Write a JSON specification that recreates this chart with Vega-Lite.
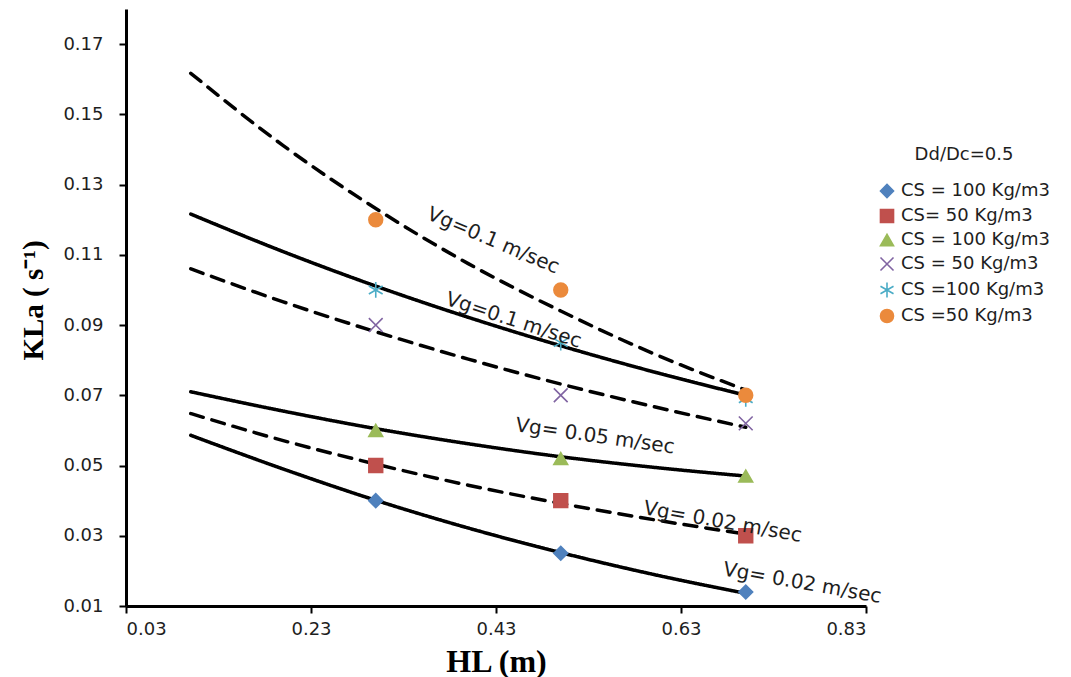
{
  "$schema": "https://vega.github.io/schema/vega-lite/v6.json",
  "autosize": {"type": "none"},
  "padding": {"left": 126, "top": 9, "right": 205, "bottom": 71},
  "width": 740,
  "height": 597,
  "background": "white",
  "config": {
    "view": {"stroke": null},
    "axis": {
      "grid": false,
      "domainColor": "black",
      "domainWidth": 3,
      "tickColor": "black",
      "tickWidth": 2,
      "tickSize": 7,
      "labelFont": "DejaVu Sans",
      "labelColor": "#1e1e1e",
      "titleFont": "Liberation Serif",
      "titleFontWeight": "bold",
      "titleColor": "black"
    }
  },
  "datasets": {
    "pts": [
      {"s": "A", "x": 0.3, "y": 0.040}, {"s": "A", "x": 0.5, "y": 0.025}, {"s": "A", "x": 0.7, "y": 0.014},
      {"s": "B", "x": 0.3, "y": 0.050}, {"s": "B", "x": 0.5, "y": 0.040}, {"s": "B", "x": 0.7, "y": 0.030},
      {"s": "C", "x": 0.3, "y": 0.060}, {"s": "C", "x": 0.5, "y": 0.052}, {"s": "C", "x": 0.7, "y": 0.047},
      {"s": "D", "x": 0.3, "y": 0.090}, {"s": "D", "x": 0.5, "y": 0.070}, {"s": "D", "x": 0.7, "y": 0.062},
      {"s": "E", "x": 0.3, "y": 0.100}, {"s": "E", "x": 0.5, "y": 0.085}, {"s": "E", "x": 0.7, "y": 0.069},
      {"s": "F", "x": 0.3, "y": 0.120}, {"s": "F", "x": 0.5, "y": 0.100}, {"s": "F", "x": 0.7, "y": 0.070}
    ],
    "lines": [
      {"line": "L1", "style": "solid", "x": 0.1, "y": 0.0586}, {"line": "L1", "style": "solid", "x": 0.2, "y": 0.0490}, {"line": "L1", "style": "solid", "x": 0.3, "y": 0.0401}, {"line": "L1", "style": "solid", "x": 0.4, "y": 0.0322}, {"line": "L1", "style": "solid", "x": 0.5, "y": 0.0252}, {"line": "L1", "style": "solid", "x": 0.6, "y": 0.0190}, {"line": "L1", "style": "solid", "x": 0.7, "y": 0.0136},
      {"line": "L2", "style": "dash", "x": 0.1, "y": 0.0648}, {"line": "L2", "style": "dash", "x": 0.2, "y": 0.0571}, {"line": "L2", "style": "dash", "x": 0.3, "y": 0.0504}, {"line": "L2", "style": "dash", "x": 0.4, "y": 0.0444}, {"line": "L2", "style": "dash", "x": 0.5, "y": 0.0392}, {"line": "L2", "style": "dash", "x": 0.6, "y": 0.0346}, {"line": "L2", "style": "dash", "x": 0.7, "y": 0.0305},
      {"line": "L3", "style": "solid", "x": 0.1, "y": 0.0710}, {"line": "L3", "style": "solid", "x": 0.2, "y": 0.0655}, {"line": "L3", "style": "solid", "x": 0.3, "y": 0.0605}, {"line": "L3", "style": "solid", "x": 0.4, "y": 0.0562}, {"line": "L3", "style": "solid", "x": 0.5, "y": 0.0525}, {"line": "L3", "style": "solid", "x": 0.6, "y": 0.0495}, {"line": "L3", "style": "solid", "x": 0.7, "y": 0.0470},
      {"line": "L4", "style": "dash", "x": 0.1, "y": 0.1060}, {"line": "L4", "style": "dash", "x": 0.2, "y": 0.0966}, {"line": "L4", "style": "dash", "x": 0.3, "y": 0.0881}, {"line": "L4", "style": "dash", "x": 0.4, "y": 0.0803}, {"line": "L4", "style": "dash", "x": 0.5, "y": 0.0732}, {"line": "L4", "style": "dash", "x": 0.6, "y": 0.0668}, {"line": "L4", "style": "dash", "x": 0.7, "y": 0.0609},
      {"line": "L5", "style": "solid", "x": 0.1, "y": 0.1216}, {"line": "L5", "style": "solid", "x": 0.2, "y": 0.1109}, {"line": "L5", "style": "solid", "x": 0.3, "y": 0.1011}, {"line": "L5", "style": "solid", "x": 0.4, "y": 0.0922}, {"line": "L5", "style": "solid", "x": 0.5, "y": 0.0841}, {"line": "L5", "style": "solid", "x": 0.6, "y": 0.0767}, {"line": "L5", "style": "solid", "x": 0.7, "y": 0.0700},
      {"line": "L6", "style": "dash", "x": 0.1, "y": 0.1617}, {"line": "L6", "style": "dash", "x": 0.2, "y": 0.1411}, {"line": "L6", "style": "dash", "x": 0.3, "y": 0.1232}, {"line": "L6", "style": "dash", "x": 0.4, "y": 0.1075}, {"line": "L6", "style": "dash", "x": 0.5, "y": 0.0940}, {"line": "L6", "style": "dash", "x": 0.6, "y": 0.0819}, {"line": "L6", "style": "dash", "x": 0.7, "y": 0.0715}
    ],
    "labels": [
      {"id": 1, "text": "Vg=0.1 m/sec", "x": 0.427, "y": 0.114},
      {"id": 2, "text": "Vg=0.1 m/sec", "x": 0.449, "y": 0.0913},
      {"id": 3, "text": "Vg= 0.05 m/sec", "x": 0.537, "y": 0.0583},
      {"id": 4, "text": "Vg= 0.02 m/sec", "x": 0.675, "y": 0.0339},
      {"id": 5, "text": "Vg= 0.02 m/sec", "x": 0.761, "y": 0.0165}
    ]
  },
  "encoding": {
    "x": {
      "field": "x", "type": "quantitative",
      "scale": {"domain": [0.03, 0.83], "nice": false, "zero": false},
      "axis": {
        "values": [0.03, 0.23, 0.43, 0.63, 0.83], "format": ".2f",
        "labelFontSize": 18, "labelFont": "DejaVu Sans",
        "title": "HL (m)", "titleFontSize": 32, "labelPadding": 7,
        "titleBaseline": "alphabetic", "titleY": 65
      }
    },
    "y": {
      "field": "y", "type": "quantitative",
      "scale": {"domain": [0.01, 0.18], "nice": false, "zero": false},
      "axis": {
        "values": [0.01, 0.03, 0.05, 0.07, 0.09, 0.11, 0.13, 0.15, 0.17], "format": ".2f",
        "labelFontSize": 18, "labelFont": "DejaVu Sans",
        "title": "KLa ( s⁻¹)", "titleFontSize": 29, "labelPadding": 16,
        "titleAngle": -90, "titleAlign": "center", "titleBaseline": "bottom",
        "titleX": -78, "titleY": 291
      }
    }
  },
  "layer": [
    {
      "data": {"name": "lines"},
      "mark": {"type": "line", "color": "black", "strokeWidth": 3.5, "strokeCap": "round", "interpolate": "monotone"},
      "encoding": {
        "detail": {"field": "line"},
        "strokeDash": {"field": "style", "type": "nominal", "scale": {"domain": ["solid", "dash"], "range": [[1, 0], [13, 9]]}, "legend": null}
      }
    },
    {
      "data": {"name": "pts"},
      "mark": {"type": "point", "filled": true, "opacity": 1, "size": 190, "strokeWidth": 1.6},
      "encoding": {
        "color": {
          "field": "s", "type": "nominal",
          "scale": {"domain": ["A", "B", "C", "D", "E", "F"], "range": ["#4F81BD", "#C0504D", "#9BBB59", "#8064A2", "#4BACC6", "#EB8A3C"]},
          "legend": {
            "title": "Dd/Dc=0.5", "orient": "none", "legendX": 752, "legendY": 137,
            "titleFont": "DejaVu Sans", "titleFontSize": 18, "titleFontWeight": "normal", "titleColor": "#1e1e1e", "titleAnchor": "middle", "titlePadding": 18,
            "labelFont": "DejaVu Sans", "labelFontSize": 18, "labelColor": "#1e1e1e", "labelOffset": 5, "rowPadding": 5,
            "symbolSize": 170, "symbolStrokeWidth": 1.6, "padding": 0,
            "labelExpr": "{'A':'CS = 100 Kg/m3','B':'CS= 50 Kg/m3','C':'CS = 100 Kg/m3','D':'CS = 50 Kg/m3','E':'CS =100 Kg/m3','F':'CS =50 Kg/m3'}[datum.label]"
          }
        },
        "stroke": {
          "field": "s", "type": "nominal",
          "scale": {"domain": ["A", "B", "C", "D", "E", "F"], "range": ["#4F81BD", "#C0504D", "#9BBB59", "#8064A2", "#4BACC6", "#EB8A3C"]},
          "legend": {
            "title": "Dd/Dc=0.5", "orient": "none", "legendX": 752, "legendY": 137,
            "titleFont": "DejaVu Sans", "titleFontSize": 18, "titleFontWeight": "normal", "titleColor": "#1e1e1e", "titleAnchor": "middle", "titlePadding": 18,
            "labelFont": "DejaVu Sans", "labelFontSize": 18, "labelColor": "#1e1e1e", "labelOffset": 5, "rowPadding": 5,
            "symbolSize": 170, "symbolStrokeWidth": 1.6, "padding": 0,
            "labelExpr": "{'A':'CS = 100 Kg/m3','B':'CS= 50 Kg/m3','C':'CS = 100 Kg/m3','D':'CS = 50 Kg/m3','E':'CS =100 Kg/m3','F':'CS =50 Kg/m3'}[datum.label]"
          }
        },
        "shape": {
          "field": "s", "type": "nominal",
          "scale": {"domain": ["A", "B", "C", "D", "E", "F"], "range": ["diamond", "square", "triangle-up", "M-1,-1L1,1M-1,1L1,-1", "M0,-1.15L0,1.15M-1,-0.58L1,0.58M-1,0.58L1,-0.58", "circle"]},
          "legend": {
            "title": "Dd/Dc=0.5", "orient": "none", "legendX": 752, "legendY": 137,
            "titleFont": "DejaVu Sans", "titleFontSize": 18, "titleFontWeight": "normal", "titleColor": "#1e1e1e", "titleAnchor": "middle", "titlePadding": 18,
            "labelFont": "DejaVu Sans", "labelFontSize": 18, "labelColor": "#1e1e1e", "labelOffset": 5, "rowPadding": 5,
            "symbolSize": 170, "symbolStrokeWidth": 1.6, "padding": 0,
            "labelExpr": "{'A':'CS = 100 Kg/m3','B':'CS= 50 Kg/m3','C':'CS = 100 Kg/m3','D':'CS = 50 Kg/m3','E':'CS =100 Kg/m3','F':'CS =50 Kg/m3'}[datum.label]"
          }
        }
      }
    },
    {
      "data": {"name": "labels"},
      "transform": [{"filter": "datum.id == 1"}],
      "mark": {"type": "text", "angle": 23, "font": "DejaVu Sans", "fontSize": 20, "color": "#1e1e1e"},
      "encoding": {"text": {"field": "text"}}
    },
    {
      "data": {"name": "labels"},
      "transform": [{"filter": "datum.id == 2"}],
      "mark": {"type": "text", "angle": 18, "font": "DejaVu Sans", "fontSize": 20, "color": "#1e1e1e"},
      "encoding": {"text": {"field": "text"}}
    },
    {
      "data": {"name": "labels"},
      "transform": [{"filter": "datum.id == 3"}],
      "mark": {"type": "text", "angle": 8, "font": "DejaVu Sans", "fontSize": 20, "color": "#1e1e1e"},
      "encoding": {"text": {"field": "text"}}
    },
    {
      "data": {"name": "labels"},
      "transform": [{"filter": "datum.id == 4"}],
      "mark": {"type": "text", "angle": 10, "font": "DejaVu Sans", "fontSize": 20, "color": "#1e1e1e"},
      "encoding": {"text": {"field": "text"}}
    },
    {
      "data": {"name": "labels"},
      "transform": [{"filter": "datum.id == 5"}],
      "mark": {"type": "text", "angle": 10, "font": "DejaVu Sans", "fontSize": 20, "color": "#1e1e1e"},
      "encoding": {"text": {"field": "text"}}
    }
  ]
}
